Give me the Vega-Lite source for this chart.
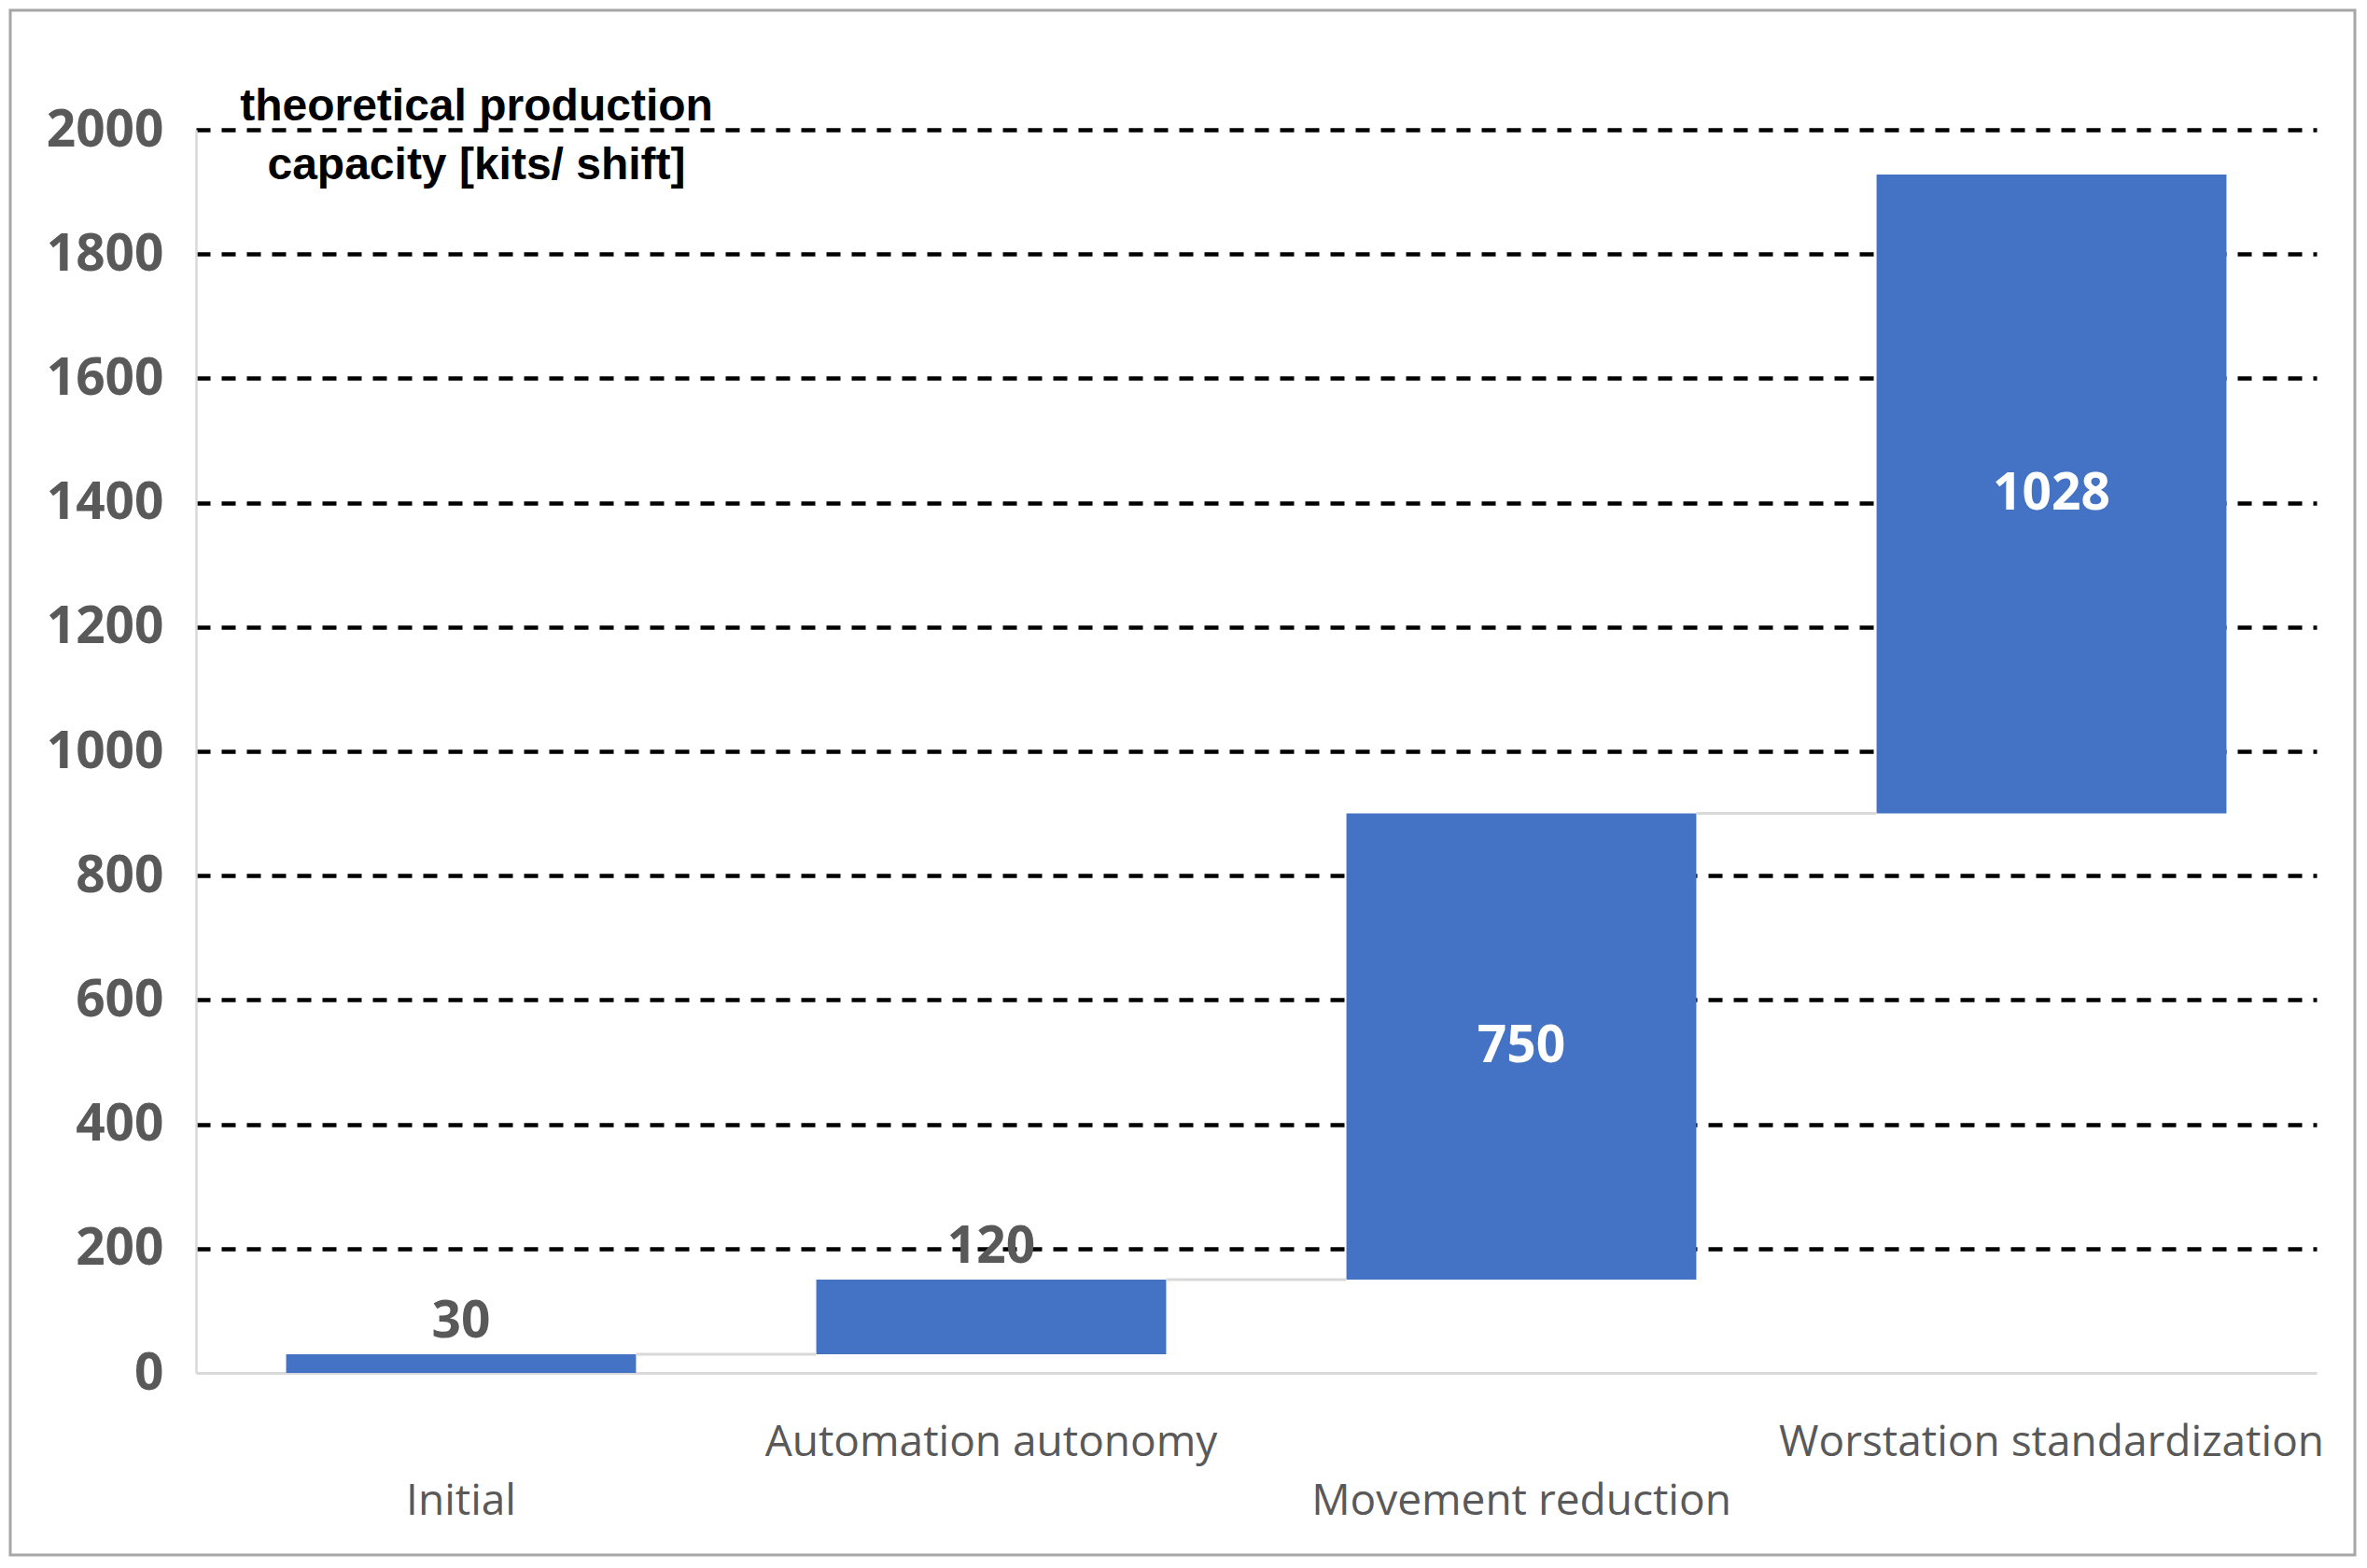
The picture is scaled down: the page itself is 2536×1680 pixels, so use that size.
{
  "$schema": "https://vega.github.io/schema/vega-lite/v6.json",
  "width": 2512,
  "height": 1655,
  "autosize": {"type": "none"},
  "padding": {"left": 11, "top": 11, "right": 13, "bottom": 14},
  "background": "white",
  "config": {"view": {"stroke": "#a6a6a6", "strokeWidth": 3}},
  "data": {
    "values": [
      {"step": "Initial", "start": 0, "end": 30, "change": 30, "next": "Automation autonomy"},
      {"step": "Automation autonomy", "start": 30, "end": 150, "change": 120, "next": "Movement reduction"},
      {"step": "Movement reduction", "start": 150, "end": 900, "change": 750, "next": "Worstation standardization"},
      {"step": "Worstation standardization", "start": 900, "end": 1928, "change": 1028}
    ]
  },
  "layer": [
    {
      "mark": {"type": "bar", "color": "#4472C4"},
      "encoding": {
        "x": {
          "field": "step",
          "type": "nominal",
          "sort": null,
          "scale": {
            "domain": ["Initial", "Automation autonomy", "Movement reduction", "Worstation standardization"],
            "range": [199, 2471],
            "paddingInner": 0.34,
            "paddingOuter": 0.17
          },
          "axis": {
            "title": null,
            "orient": "bottom",
            "offset": -195,
            "domainColor": "#d9d9d9",
            "domainWidth": 3,
            "ticks": false,
            "tickSize": 0,
            "grid": false,
            "labelAngle": 0,
            "labelFont": "Open Sans",
            "labelFontSize": 46,
            "labelColor": "#595959",
            "labelBaseline": "middle",
            "labelLimit": 0,
            "labelOverlap": false,
            "labelBound": false,
            "labelFlush": false,
            "labelPadding": {
              "condition": {"test": "datum.value === 'Initial' || datum.value === 'Movement reduction'", "value": 137},
              "value": 74
            }
          }
        },
        "y": {
          "field": "start",
          "type": "quantitative",
          "scale": {"domain": [0, 2000], "range": [1460, 128], "nice": false},
          "axis": {
            "values": [0, 200, 400, 600, 800, 1000, 1200, 1400, 1600, 1800, 2000],
            "format": "d",
            "offset": -199,
            "domainColor": "#d9d9d9",
            "domainWidth": 2.5,
            "ticks": false,
            "tickSize": 0,
            "grid": true,
            "gridColor": "#000000",
            "gridWidth": 4.5,
            "gridDash": [15, 12],
            "gridOpacity": {"condition": {"test": "datum.value === 0", "value": 0}, "value": 1},
            "labelFont": "Open Sans",
            "labelFontWeight": "bold",
            "labelFontSize": 55,
            "labelColor": "#595959",
            "labelPadding": 35,
            "title": ["theoretical production", "capacity [kits/ shift]"],
            "titleAngle": 0,
            "titleX": 300,
            "titleY": 117,
            "titleAlign": "center",
            "titleBaseline": "alphabetic",
            "titleFont": "Liberation Sans",
            "titleFontWeight": "bold",
            "titleFontSize": 48,
            "titleLineHeight": 63,
            "titleColor": "#000000"
          }
        },
        "y2": {"field": "end"}
      }
    },
    {
      "transform": [{"filter": "isValid(datum.next)"}],
      "mark": {"type": "rule", "color": "#d9d9d9", "strokeWidth": 3},
      "encoding": {
        "x": {"field": "step", "type": "nominal", "sort": null, "bandPosition": 1},
        "x2": {"field": "next", "bandPosition": 0},
        "y": {"field": "end", "type": "quantitative"}
      }
    },
    {
      "transform": [{"filter": "datum.change < 200"}],
      "mark": {"type": "text", "font": "Open Sans", "fontWeight": "bold", "fontSize": 55, "color": "#595959", "baseline": "middle", "dy": -35},
      "encoding": {
        "x": {"field": "step", "type": "nominal", "sort": null},
        "y": {"field": "end", "type": "quantitative"},
        "text": {"field": "change", "type": "quantitative"}
      }
    },
    {
      "transform": [
        {"filter": "datum.change >= 200"},
        {"calculate": "(datum.start + datum.end) / 2", "as": "mid"}
      ],
      "mark": {"type": "text", "font": "Open Sans", "fontWeight": "bold", "fontSize": 55, "color": "#ffffff", "baseline": "middle"},
      "encoding": {
        "x": {"field": "step", "type": "nominal", "sort": null},
        "y": {"field": "mid", "type": "quantitative"},
        "text": {"field": "change", "type": "quantitative"}
      }
    }
  ]
}
